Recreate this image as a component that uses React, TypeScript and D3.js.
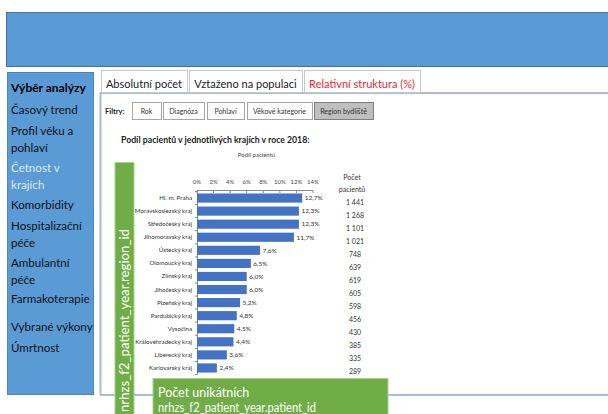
import React from 'react';
import * as d3 from 'd3';

const REGIONS = [
  'Hl. m. Praha', 'Moravskoslezský kraj', 'Středočeský kraj', 'Jihomoravský kraj',
  'Ústecký kraj', 'Olomoucký kraj', 'Zlínský kraj', 'Jihočeský kraj', 'Plzeňský kraj',
  'Pardubický kraj', 'Vysočina', 'Královéhradecký kraj', 'Liberecký kraj', 'Karlovarský kraj',
];
const SHARES = [12.7, 12.3, 12.3, 11.7, 7.6, 6.5, 6.0, 6.0, 5.2, 4.8, 4.5, 4.4, 3.6, 2.4];
const COUNTS = ['1 441', '1 268', '1 101', '1 021', '748', '639', '619', '605', '598', '456', '430', '385', '335', '289'];
const TICKS = [0, 2, 4, 6, 8, 10, 12, 14];

const MENU = [
  { t: 'Časový trend', y: 114 },
  { t: 'Profil věku a', y: 135 },
  { t: 'pohlaví', y: 152 },
  { t: 'Četnost v', y: 172, active: true },
  { t: 'krajích', y: 189, active: true },
  { t: 'Komorbidity', y: 209 },
  { t: 'Hospitalizační', y: 230 },
  { t: 'péče', y: 247 },
  { t: 'Ambulantní', y: 267 },
  { t: 'péče', y: 284 },
  { t: 'Farmakoterapie', y: 303 },
  { t: 'Vybrané výkony', y: 331 },
  { t: 'Úmrtnost', y: 352 },
];

const TABS = [
  { t: 'Absolutní počet', x0: 101, x1: 187 },
  { t: 'Vztaženo na populaci', x0: 189, x1: 302 },
  { t: 'Relativní struktura (%)', x0: 304, x1: 420, red: true },
];

const FILTERS = [
  { t: 'Rok', x0: 132, x1: 161 },
  { t: 'Diagnóza', x0: 163, x1: 204 },
  { t: 'Pohlaví', x0: 207, x1: 244 },
  { t: 'Věkové kategorie', x0: 247, x1: 312 },
  { t: 'Region bydliště', x0: 314, x1: 373, on: true },
];

const FONT = 'Lato, "Open Sans", sans-serif';

export default function App() {
  const W = 608;
  const H = 414;
  const x = d3.scaleLinear().domain([0, 14]).range([197, 313]);
  const y = d3.scaleBand<string>().domain(REGIONS).range([191.5, 374.5]).paddingInner(0.3).paddingOuter(0.15);
  const bw = y.bandwidth();
  const n = REGIONS.length;

  return (
    <svg width={W} height={H} style={{ position: 'absolute', left: 0, top: 0 }} fontFamily={FONT}>
      <rect x={0} y={0} width={W} height={H} fill="#fff" />
      {/* banner */}
      <rect x={6.5} y={12.5} width={W} height={54} fill="#5B9BD5" stroke="#41719C" strokeWidth={1} />

      {/* sidebar */}
      <rect x={7.5} y={72.5} width={86} height={322} fill="#5B9BD5" stroke="#4A86BE" strokeWidth={1} />
      <text x={11} y={92} fontSize={12} fontWeight="bold" fill="#000">Výběr analýzy</text>
      {MENU.map((m, i) => (
        <text key={i} x={11} y={m.y} fontSize={11.6} fill={m.active ? '#DEEAF6' : '#111'}>{m.t}</text>
      ))}

      {/* content panel */}
      <path d={`M100.5,395 V93 H${W}`} fill="none" stroke="#A8BCD8" strokeWidth={2} />
      <line x1={100} x2={W} y1={395} y2={395} stroke="#A8BCD8" strokeWidth={2} />

      {/* tabs */}
      {TABS.map((tb, i) => (
        <g key={i}>
          <rect x={tb.x0 + 0.5} y={70.5} width={tb.x1 - tb.x0} height={22} fill="#fff" stroke="#C8C8C8" />
          <text x={(tb.x0 + tb.x1) / 2} y={87.5} fontSize={11} textAnchor="middle" fill={tb.red ? '#F2282D' : '#222'}>{tb.t}</text>
        </g>
      ))}

      {/* filters */}
      <text x={105} y={114} fontSize={7.5} fontWeight="bold" fill="#222">Filtry:</text>
      {FILTERS.map((f, i) => (
        <g key={i}>
          <rect x={f.x0 + 0.5} y={102.5} width={f.x1 - f.x0} height={17} fill={f.on ? '#BFBFBF' : '#fff'} stroke={f.on ? '#7F7F7F' : '#A6A6A6'} />
          <text x={(f.x0 + f.x1) / 2} y={113.5} fontSize={7} fill="#333" textAnchor="middle">{f.t}</text>
        </g>
      ))}

      {/* chart title */}
      <text x={121} y={143} fontSize={8.7} fontWeight="bold" fill="#222">Podíl pacientů v jednotlivých krajích v roce 2018:</text>
      <text x={256.5} y={157} fontSize={6} textAnchor="middle" fill="#444">Podíl pacientů</text>

      {/* x axis (top) */}
      <line x1={x(0)} x2={x(14)} y1={190.5} y2={190.5} stroke="#888" strokeWidth={1} />
      {TICKS.map((t) => (
        <g key={t}>
          <line x1={x(t)} x2={x(t)} y1={190.5} y2={193} stroke="#888" />
          <text x={x(t)} y={184} fontSize={6} textAnchor="middle" fill="#444">{t}%</text>
        </g>
      ))}

      {/* y axis */}
      <line x1={197.5} x2={197.5} y1={190} y2={374.5} stroke="#888" strokeWidth={1} />
      {d3.range(n + 1).map((i) => (
        <line key={i} x1={195} x2={197.5} y1={191.5 + i * (183 / n)} y2={191.5 + i * (183 / n)} stroke="#888" />
      ))}

      {/* bars */}
      {REGIONS.map((r, i) => {
        const by = y(r) as number;
        return (
          <g key={r}>
            <text x={192} y={by + bw / 2 + 2} fontSize={6.2} textAnchor="end" fill="#333">{r}</text>
            <rect x={x(0)} y={by} width={x(SHARES[i]) - x(0)} height={bw} fill="#4472C4" />
            <text x={x(SHARES[i]) + 2.5} y={by + bw / 2 + 2.3} fontSize={6.5} fill="#333">{SHARES[i].toFixed(1).replace('.', ',')}%</text>
            <text x={355} y={by + bw / 2 + 6.5} fontSize={7} textAnchor="middle" fill="#333">{COUNTS[i]}</text>
          </g>
        );
      })}
      <text x={352} y={180} fontSize={7} textAnchor="middle" fill="#333">Počet</text>
      <text x={352} y={192} fontSize={7} textAnchor="middle" fill="#333">pacientů</text>

      {/* green field boxes */}
      <rect x={115} y={162.5} width={19} height={H} fill="#70AD47" stroke="#A9D18E" strokeWidth={1} />
      <text transform={`translate(129,412) rotate(-90)`} fontSize={12.5} fill="#fff" textLength={183} lengthAdjust="spacingAndGlyphs">nrhzs_f2_patient_year.region_id</text>
      <rect x={153} y={378.5} width={235} height={H} fill="#70AD47" stroke="#A9D18E" strokeWidth={1} />
      <text x={158} y={397} fontSize={12.5} fill="#fff">Počet unikátních</text>
      <text x={158} y={412} fontSize={12.5} fill="#fff" textLength={158} lengthAdjust="spacingAndGlyphs">nrhzs_f2_patient_year.patient_id</text>
    </svg>
  );
}
